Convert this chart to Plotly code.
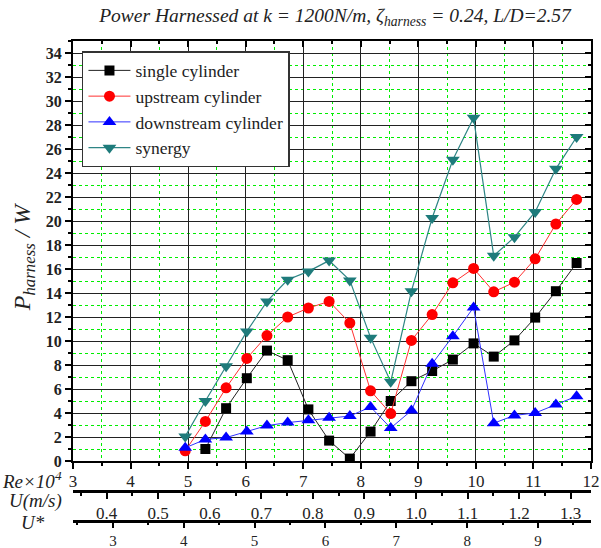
import plotly.graph_objects as go

# Reynolds number (x10^4) of each measurement
re_all = [4.95, 5.30, 5.66, 6.02, 6.37, 6.73, 7.09, 7.45, 7.81, 8.17,
          8.52, 8.88, 9.24, 9.60, 9.96, 10.31, 10.67, 11.03, 11.39, 11.75]
re_single = re_all[1:]

single = [1.0, 4.4, 6.9, 9.2, 8.4, 4.3, 1.7, 0.2, 2.45, 5.0,
          6.65, 7.5, 8.45, 9.8, 8.7, 10.05, 11.95, 14.15, 16.5]
upstream = [0.85, 3.3, 6.1, 8.55, 10.45, 12.0, 12.75, 13.3, 11.5, 5.85,
            3.95, 10.05, 12.2, 14.85, 16.05, 14.1, 14.9, 16.85, 19.75, 21.8]
downstream = [1.1, 1.8, 1.95, 2.45, 2.95, 3.2, 3.4, 3.6, 3.75, 4.5,
              2.75, 4.2, 8.1, 10.4, 12.8, 3.15, 3.8, 4.0, 4.7, 5.4]
synergy = [2.05, 5.0, 7.9, 10.8, 13.3, 15.1, 15.8, 16.7, 15.05, 10.28,
           6.6, 14.15, 20.25, 25.1, 28.6, 17.1, 18.65, 20.75, 24.35, 27.0]

series_names = ["single cylinder", "upstream cylinder", "downstream cylinder", "synergy"]

# axis conversions (Re x10^4 per unit)
re_range = [3, 12]
re_per_U = 8.96
re_per_Ustar = 1.231

SERIF = "Liberation Serif"

fig = go.Figure()

fig.add_trace(go.Scatter(x=re_single, y=single, name=series_names[0], mode="lines+markers",
                         line=dict(color="#222222", width=1),
                         marker=dict(symbol="square", size=10, color="black")))
fig.add_trace(go.Scatter(x=re_all, y=upstream, name=series_names[1], mode="lines+markers",
                         line=dict(color="#FF3030", width=1),
                         marker=dict(symbol="circle", size=11, color="#FF0000")))
fig.add_trace(go.Scatter(x=re_all, y=downstream, name=series_names[2], mode="lines+markers",
                         line=dict(color="#3030FF", width=1),
                         marker=dict(symbol="triangle-up", size=12, color="#0000FF")))
fig.add_trace(go.Scatter(x=re_all, y=synergy, name=series_names[3], mode="lines+markers",
                         line=dict(color="#2E8585", width=1.2),
                         marker=dict(symbol="triangle-down", size=12, color="#1E7B7B")))

# dummy traces so the extra axes get drawn
for xa, ya in [("x2", "y"), ("x3", "y"), ("x4", "y"), ("x5", "y"), ("x", "y2")]:
    fig.add_trace(go.Scatter(x=[], y=[], xaxis=xa, yaxis=ya, showlegend=False,
                             hoverinfo="skip", mode="markers"))

ml, mr, mt, mb = 73, 8, 41, 20
W, H = 601, 548
ph = H - mt - mb
plot_bottom = 461

def py(px):
    return (H - mb - px) / ph

def px_x(px):
    return (px - ml) / (W - ml - mr)

fig.update_layout(
    width=W, height=H,
    margin=dict(l=ml, r=mr, t=mt, b=mb),
    paper_bgcolor="white", plot_bgcolor="white",
    title=dict(text="<i>Power Harnessed at k = 1200N/m, ζ<sub>harness</sub> = 0.24, L/D=2.57</i>",
               x=px_x(336), xref="paper", xanchor="center", y=1 - 15 / H, yref="container",
               yanchor="middle", font=dict(family=SERIF, size=19.5, color="#222")),
    showlegend=True,
    legend=dict(x=px_x(82), y=py(51), xanchor="left", yanchor="top",
                bgcolor="white", bordercolor="#333", borderwidth=1.5,
                font=dict(family=SERIF, size=17.5, color="#222"),
                itemwidth=42, tracegroupgap=0),
    xaxis=dict(range=re_range, domain=[0, 1], anchor="y",
               dtick=1, tick0=0, ticks="outside", ticklen=6, tickwidth=1.5, tickcolor="black",
               showline=True, linecolor="black", linewidth=2, mirror=True,
               showgrid=True, gridcolor="#222", gridwidth=1,
               showticklabels=False,
               minor=dict(dtick=0.5, tick0=0, ticks="outside", ticklen=3, tickwidth=1.5,
                          tickcolor="black", showgrid=True, gridcolor="#00EE00",
                          griddash="dot", gridwidth=1),
               zeroline=False),
    yaxis=dict(range=[0, 35], domain=[py(plot_bottom), 1], anchor="x",
               dtick=2, tick0=0, ticks="outside", ticklen=6, tickwidth=1.5, tickcolor="black",
               showline=True, linecolor="black", linewidth=2, mirror=True,
               showgrid=True, gridcolor="#222", gridwidth=1,
               tickfont=dict(family=SERIF, size=16, color="#222", weight="bold"),
               minor=dict(dtick=1, tick0=0, ticks="outside", ticklen=3, tickwidth=1.5,
                          tickcolor="black", showgrid=True, gridcolor="#00EE00",
                          griddash="dot", gridwidth=1),
               zeroline=False),
    xaxis5=dict(range=re_range, overlaying="x", anchor="free", position=py(469), side="bottom",
                dtick=1, tick0=0, ticks="", showline=False, showgrid=False,
                automargin=False, ticklabeloverflow="allow",
                tickfont=dict(family=SERIF, size=17, color="#222"), zeroline=False),
    xaxis2=dict(range=[re_range[0] / re_per_U, re_range[1] / re_per_U],
                overlaying="x", anchor="free", position=py(491), side="bottom",
                automargin=False, ticklabeloverflow="allow",
                dtick=0.1, tick0=0, tickformat=".1f",
                ticks="outside", ticklen=6, tickwidth=1.5, tickcolor="black",
                showline=True, linecolor="black", linewidth=2.5, showgrid=False,
                tickfont=dict(family=SERIF, size=17, color="#222"),
                minor=dict(dtick=0.05, tick0=0, ticks="outside", ticklen=3, tickwidth=1.5,
                           tickcolor="black", showgrid=False),
                zeroline=False),
    xaxis3=dict(range=[re_range[0] / re_per_Ustar, re_range[1] / re_per_Ustar],
                overlaying="x", anchor="free", position=py(520.5), side="bottom",
                automargin=False, ticklabeloverflow="allow",
                dtick=1, tick0=0,
                ticks="outside", ticklen=6, tickwidth=1.5, tickcolor="black",
                showline=True, linecolor="black", linewidth=2.5, showgrid=False,
                tickfont=dict(family=SERIF, size=15, color="#222"),
                minor=dict(dtick=0.5, tick0=0, ticks="outside", ticklen=3, tickwidth=1.5,
                           tickcolor="black", showgrid=False),
                zeroline=False),
    xaxis4=dict(range=re_range, overlaying="x", anchor="y", side="top",
                dtick=1, tick0=0, ticks="inside", ticklen=6, tickwidth=1.5, tickcolor="black",
                showticklabels=False, showgrid=False, showline=False,
                minor=dict(dtick=0.5, tick0=0, ticks="inside", ticklen=3, tickwidth=1.5,
                           tickcolor="black", showgrid=False),
                zeroline=False),
    yaxis2=dict(range=[0, 35], overlaying="y", anchor="x", side="right",
                dtick=2, tick0=0, ticks="inside", ticklen=6, tickwidth=1.5, tickcolor="black",
                showticklabels=False, showgrid=False, showline=False,
                minor=dict(dtick=1, tick0=0, ticks="inside", ticklen=3, tickwidth=1.5,
                           tickcolor="black", showgrid=False),
                zeroline=False),
)

ann_font = dict(family=SERIF, size=19, color="#222")
fig.add_annotation(text="<i>P<sub>harness</sub> / W</i>", textangle=-90,
                   xref="paper", yref="paper", x=px_x(24), y=py(257),
                   xanchor="center", yanchor="middle", showarrow=False,
                   font=dict(family=SERIF, size=24, color="#222"))
fig.add_annotation(text="<i>Re×10<sup>4</sup></i>", xref="paper", yref="paper",
                   x=px_x(64), y=py(480), xanchor="right", yanchor="middle",
                   showarrow=False, font=ann_font)
fig.add_annotation(text="<i>U(m/s)</i>", xref="paper", yref="paper",
                   x=px_x(64), y=py(501), xanchor="right", yanchor="middle",
                   showarrow=False, font=ann_font)
fig.add_annotation(text="<i>U*</i>", xref="paper", yref="paper",
                   x=px_x(33), y=py(522), xanchor="center", yanchor="middle",
                   showarrow=False, font=ann_font)

fig.write_html("out.html")
